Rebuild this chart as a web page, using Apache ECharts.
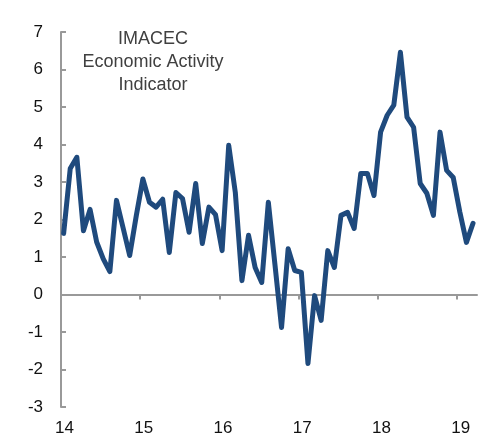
<!DOCTYPE html>
<html>
<head>
<meta charset="utf-8">
<script src="https://cdn.jsdelivr.net/npm/echarts@6/dist/echarts.min.js"></script>
<style>
html,body{margin:0;padding:0;background:#fff;}
#chart{width:487px;height:438px;}
</style>
</head>
<body>
<div id="chart"></div>
<script>
// Monthly IMACEC (y/y %), Jan 2014 - Mar 2019
var startYear = 14;
var imacec = [
  1.63, 3.36, 3.66, 1.70, 2.27, 1.40, 0.95, 0.61, 2.51, 1.78, 1.04, 2.10,
  3.08, 2.46, 2.33, 2.54, 1.12, 2.72, 2.56, 1.66, 2.96, 1.36, 2.33, 2.13,
  1.17, 3.98, 2.72, 0.37, 1.58, 0.72, 0.32, 2.46, 0.80, -0.88, 1.22, 0.64,
  0.59, -1.84, -0.03, -0.69, 1.17, 0.72, 2.11, 2.19, 1.76, 3.23, 3.23, 2.64,
  4.33, 4.78, 5.05, 6.46, 4.73, 4.46, 2.96, 2.70, 2.11, 4.33, 3.31, 3.12,
  2.20, 1.39, 1.90
];
var yearLabels = ['14', '15', '16', '17', '18', '19'];
var yearTicks = [14, 15, 16, 17, 18, 19];
var yTicks = [-3, -2, -1, 0, 1, 2, 3, 4, 5, 6, 7];
var titleLines = ['IMACEC', 'Economic Activity', 'Indicator'];

var points = imacec.map(function (v, i) {
  return [startYear + (i + 0.4) / 12, v];
});

var chart = echarts.init(document.getElementById('chart'), null, {renderer: 'canvas'});
var font = 'Liberation Sans, Arial, sans-serif';
chart.setOption({
  animation: false,
  grid: {left: 61, right: 10, top: 32, bottom: 31, containLabel: false},
  graphic: [{
    type: 'text',
    x: 153,
    y: 28,
    style: {
      text: titleLines.join('\n'),
      align: 'center',
      textAlign: 'center',
      verticalAlign: 'top',
      fontSize: 18,
      lineHeight: 23,
      fontFamily: font,
      fill: '#404040'
    }
  }],
  xAxis: [{
    type: 'value',
    min: 14, max: 19.25, interval: 1,
    axisLine: {onZero: true, lineStyle: {color: '#999999', width: 2}},
    axisTick: {show: true, inside: false, length: 5, customValues: yearTicks, lineStyle: {color: '#999999', width: 2}},
    axisLabel: {show: false},
    splitLine: {show: false}
  }, {
    type: 'value',
    position: 'bottom',
    min: 14, max: 19.25, interval: 1,
    axisLine: {show: false, onZero: false},
    axisTick: {show: false},
    splitLine: {show: false},
    axisLabel: {
      show: true, margin: 13, fontSize: 17, color: '#111', fontFamily: font,
      padding: [0, 0, 0, 7],
      customValues: yearTicks,
      formatter: function (v) {
        var idx = Math.round(v) - startYear;
        return yearLabels[idx] || '';
      }
    }
  }],
  yAxis: {
    type: 'value',
    min: yTicks[0], max: yTicks[yTicks.length - 1], interval: 1,
    axisLine: {show: true, lineStyle: {color: '#999999', width: 2}},
    axisTick: {show: true, inside: true, length: 5, lineStyle: {color: '#999999', width: 2}},
    splitLine: {show: false},
    axisLabel: {margin: 18, fontSize: 17, color: '#111', fontFamily: font}
  },
  series: [{
    type: 'line',
    xAxisIndex: 0,
    data: points,
    showSymbol: false,
    smooth: false,
    lineStyle: {color: '#1F4A7D', width: 5, join: 'round', cap: 'round'}
  }]
});
</script>
</body>
</html>
